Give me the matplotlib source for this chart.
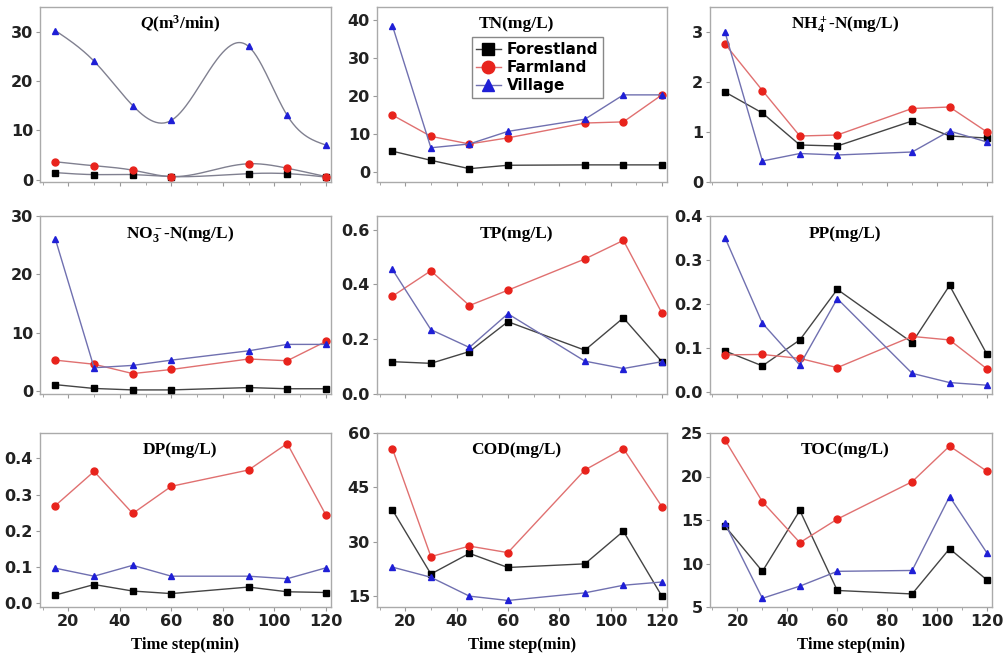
import numpy as np
import matplotlib
import matplotlib.pyplot as plt
from matplotlib.ticker import MultipleLocator

matplotlib.use('Agg')

plt.rcParams['mathtext.fontset'] = 'custom'
plt.rcParams['mathtext.rm'] = 'Liberation Serif:bold'
plt.rcParams['mathtext.it'] = 'Liberation Serif:italic:bold'
plt.rcParams['mathtext.bf'] = 'Liberation Serif:bold'

# sampling times (min)
time_steps = [15, 30, 45, 60, 90, 105, 120]

# panel titles
titles = ['$\\mathit{Q}$(m$^3$/min)', 'TN(mg/L)', 'NH$_4^+$-N(mg/L)',
          'NO$_3^-$-N(mg/L)', 'TP(mg/L)', 'PP(mg/L)',
          'DP(mg/L)', 'COD(mg/L)', 'TOC(mg/L)']

# values per panel
forest = [
    [1.4, 1.0, 1.0, 0.6, 1.2, 1.2, 0.5],
    [5.6, 3.2, 1.0, 1.9, 2.0, 2.0, 2.0],
    [1.8, 1.38, 0.74, 0.72, 1.22, 0.92, 0.88],
    [1.1, 0.45, 0.2, 0.2, 0.6, 0.4, 0.4],
    [0.118, 0.112, 0.155, 0.264, 0.16, 0.278, 0.118],
    [0.093, 0.059, 0.118, 0.233, 0.112, 0.242, 0.085],
    [0.023, 0.052, 0.034, 0.027, 0.045, 0.032, 0.030],
    [38.8, 21.1, 26.8, 22.9, 23.9, 32.9, 15.0],
    [14.3, 9.1, 16.1, 6.9, 6.5, 11.7, 8.1],
]
farmland = [
    [3.6, 2.8, 1.9, 0.6, 3.2, 2.3, 0.6],
    [15.1, 9.5, 7.5, 9.1, 13.0, 13.3, 20.4],
    [2.76, 1.83, 0.92, 0.94, 1.47, 1.5, 1.0],
    [5.3, 4.6, 3.0, 3.7, 5.5, 5.2, 8.5],
    [0.357, 0.45, 0.323, 0.379, 0.493, 0.561, 0.296],
    [0.084, 0.085, 0.076, 0.055, 0.126, 0.118, 0.052],
    [0.27, 0.364, 0.248, 0.323, 0.368, 0.441, 0.244],
    [55.7, 25.9, 28.8, 27.0, 49.8, 55.7, 39.7],
    [24.2, 17.1, 12.4, 15.1, 19.4, 23.5, 20.6],
]
village = [
    [30.2, 24.0, 15.0, 12.0, 27.0, 13.0, 7.0],
    [38.6, 6.5, 7.5, 10.8, 14.0, 20.4, 20.4],
    [3.0, 0.42, 0.57, 0.54, 0.6, 1.02, 0.8],
    [26.0, 4.0, 4.4, 5.3, 6.9, 8.0, 8.0],
    [0.455, 0.235, 0.17, 0.293, 0.12, 0.093, 0.118],
    [0.351, 0.156, 0.061, 0.212, 0.042, 0.021, 0.015],
    [0.097, 0.075, 0.105, 0.075, 0.075, 0.068, 0.098],
    [23.0, 20.2, 15.0, 13.8, 15.9, 18.0, 18.9],
    [14.6, 6.0, 7.4, 9.1, 9.2, 17.7, 11.2],
]

y_limits = [(-0.5, 35), (-2.5, 43.5), (0, 3.5), (-0.5, 30), (0, 0.65),
            (-0.005, 0.4), (-0.01, 0.47), (12, 60), (5, 25)]
y_steps = [10, 10, 1, 10, 0.2, 0.1, 0.1, 15, 5]
y_formats = ['{:.0f}', '{:.0f}', '{:.0f}', '{:.0f}', '{:.1f}', '{:.1f}',
             '{:.1f}', '{:.0f}', '{:.0f}']


def natural_spline(x, y, n=200):
    # natural cubic spline, only used to draw the smoothed Q curves
    x = np.asarray(x, float)
    y = np.asarray(y, float)
    h = np.diff(x)
    k = len(x)
    A = np.zeros((k, k))
    b = np.zeros(k)
    A[0, 0] = A[-1, -1] = 1
    for i in range(1, k - 1):
        A[i, i - 1] = h[i - 1]
        A[i, i] = 2 * (h[i - 1] + h[i])
        A[i, i + 1] = h[i]
        b[i] = 6 * ((y[i + 1] - y[i]) / h[i] - (y[i] - y[i - 1]) / h[i - 1])
    m = np.linalg.solve(A, b)
    xs = np.linspace(x[0], x[-1], n)
    idx = np.clip(np.searchsorted(x, xs) - 1, 0, k - 2)
    x0, x1 = x[idx], x[idx + 1]
    hh = x1 - x0
    t0, t1 = x1 - xs, xs - x0
    ys = (m[idx] * t0 ** 3 + m[idx + 1] * t1 ** 3) / (6 * hh) \
        + (y[idx] / hh - m[idx] * hh / 6) * t0 \
        + (y[idx + 1] / hh - m[idx + 1] * hh / 6) * t1
    return xs, ys


fig = plt.figure(figsize=(10.06, 6.59), dpi=100)
W, H = 1006, 659
cols = [(40, 331), (377, 667), (710, 992)]
rows = [(7, 182), (216, 394), (433, 607)]

styles = [
    ('Forestland', 'black', '#444444', 's'),
    ('Farmland', '#e8231c', '#e07070', 'o'),
    ('Village', '#1f1fd6', '#7070b0', '^'),
]

for p in range(9):
    r, c = divmod(p, 3)
    (x0, x1), (t, b) = cols[c], rows[r]
    ax = fig.add_axes([x0 / W, 1 - b / H, (x1 - x0) / W, (b - t) / H])
    series = [forest[p], farmland[p], village[p]]
    for (name, mcol, lcol, mk), vals in zip(styles, series):
        if p == 0:
            xs, ys = natural_spline(time_steps, vals)
            ax.plot(xs, ys, color='#808090', lw=1.0, zorder=2)
            ax.plot(time_steps, vals, ls='none', marker=mk, color=mcol,
                    ms=5, zorder=3, label=name)
        else:
            ax.plot(time_steps, vals, color=lcol, lw=1.0, marker=mk,
                    markerfacecolor=mcol, markeredgecolor=mcol, ms=5,
                    zorder=3, label=name)
    ax.set_xlim(9, 122)
    ax.set_ylim(*y_limits[p])
    ax.xaxis.set_major_locator(MultipleLocator(20))
    ax.xaxis.set_minor_locator(MultipleLocator(10))
    step = y_steps[p]
    lo, hi = y_limits[p]
    yt = np.arange(max(0.0, np.ceil(lo / step - 1e-9) * step), hi + 1e-9, step)
    ax.set_yticks(yt)
    ax.set_yticklabels([y_formats[p].format(abs(v) if abs(v) < 1e-9 else v)
                        for v in yt])
    ax.tick_params(axis='both', direction='out', length=3, width=0.8,
                   color='#999999', labelsize=11.5, pad=2)
    ax.tick_params(axis='x', which='minor', direction='out', length=2,
                   color='#999999')
    for lab in ax.get_yticklabels() + ax.get_xticklabels():
        lab.set_fontweight('bold')
        lab.set_color('#222222')
    for sp in ax.spines.values():
        sp.set_color('#aaaaaa')
        sp.set_linewidth(1.0)
    if r < 2:
        ax.set_xticklabels([])
    else:
        ax.set_xlabel('Time step(min)', family='Liberation Serif',
                      fontweight='bold', fontsize=12, labelpad=6)
    ax.text(0.48, 0.9, titles[p], transform=ax.transAxes, ha='center',
            va='center', family='Liberation Serif', fontweight='bold',
            fontsize=12.5)
    if p == 1:
        leg = ax.legend(loc='upper left', bbox_to_anchor=(0.3, 0.87),
                        prop={'weight': 'bold', 'size': 11},
                        markerscale=1.8, handlelength=1.6,
                        borderpad=0.3, labelspacing=0.2, handletextpad=0.4,
                        fancybox=False, framealpha=1)
        leg.get_frame().set_edgecolor('#888888')

fig.savefig('out.png', dpi=100)
